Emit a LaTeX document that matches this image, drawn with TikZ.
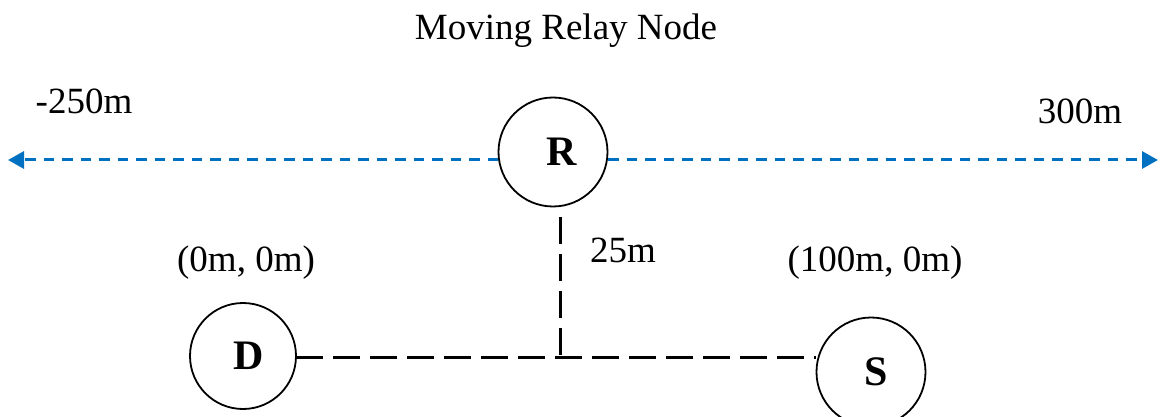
\documentclass[tikz,border=0pt]{standalone}
\usepackage{fontspec}
\setmainfont{Liberation Serif}
\usetikzlibrary{arrows.meta}
\definecolor{relayblue}{HTML}{0070C0}
\tikzset{
  nodecirc/.style={circle, draw=black, line width=1.8pt, minimum size=109pt, inner sep=0pt, font=\fontsize{42}{46}\selectfont\bfseries},
  lbl/.style={font=\fontsize{37}{41}\selectfont, inner sep=0pt},
  blk/.style={draw=black, line width=3pt, dash pattern=on 27pt off 10pt},
  blu/.style={draw=relayblue, line width=3pt, dash pattern=on 10.5pt off 8pt, -{Triangle[length=16pt,width=17pt]}}
}
\begin{document}
\begin{tikzpicture}[x=1pt,y=-1pt]
\useasboundingbox (0,0) rectangle (1163,417);
\node[nodecirc] (R) at (553,152) {\hspace*{18pt}R};
\node[nodecirc, minimum size=106pt] (D) at (243,356) {\hspace*{12pt}D};
\node[nodecirc] (S) at (871,372) {\hspace*{10pt}S};
\coordinate (L) at (8,160);
\coordinate (Rt) at (1158,160);
\coordinate (Rl) at (498,160);
\coordinate (Rr) at (608,160);
\coordinate (J) at (560,357);
\coordinate (Vt) at (560,217);
\coordinate (Dr) at (296,357);
\coordinate (Sl) at (816,357);
\draw[blu] (Rl) -- (L);
\draw[blu] (Rr) -- (Rt);
\draw[blk] (Dr) -- (Sl);
\draw[blk] (Vt) -- (J);
\node[lbl] (title) at (566,31) {Moving Relay Node};
\node[lbl] (lm) at (84,101) {-250m};
\node[lbl] (rm) at (1080,111) {300m};
\node[lbl] (dc) at (246,263) {(0m, 0m)};
\node[lbl] (sc) at (875,263) {(100m, 0m)};
\node[lbl] (dist) at (623,250) {25m};
\end{tikzpicture}
\end{document}
